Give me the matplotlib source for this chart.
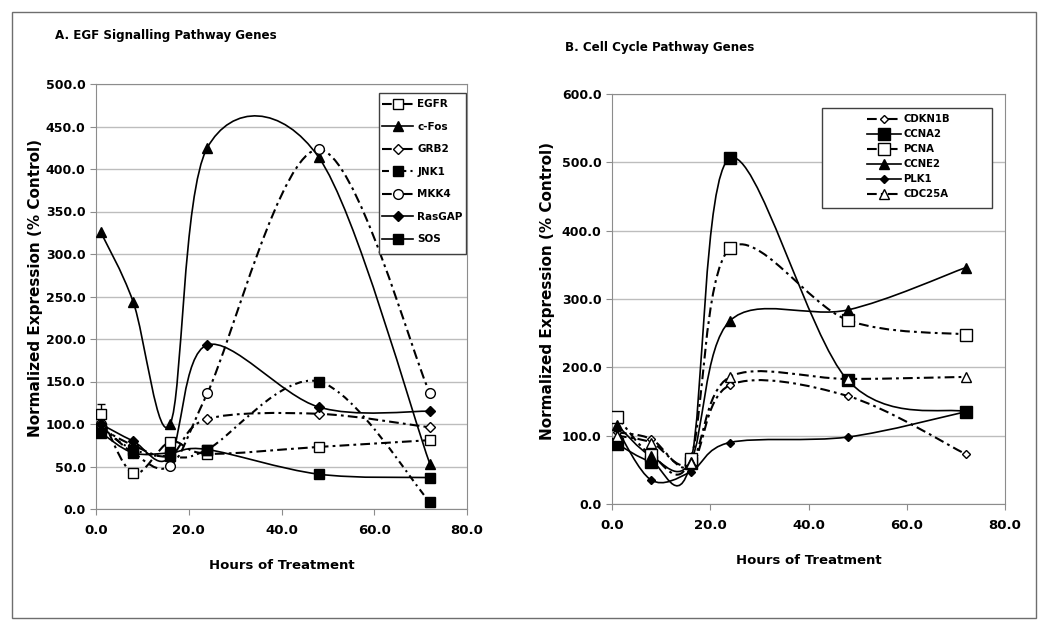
import numpy as np
import matplotlib
matplotlib.use('Agg')
import matplotlib.pyplot as plt
from matplotlib.path import Path
from matplotlib.patches import PathPatch, Rectangle
from matplotlib.lines import Line2D

# time points (hours)
hours = [1, 8, 16, 24, 48, 72]

# panel A - EGF signalling pathway genes
egfr = [112, 42, 79, 65, 73, 81]
egfr_err = [12, 0, 0, 0, 0, 0]
cfos = [326, 244, 100, 425, 414, 53]
grb2 = [95, 75, 63, 106, 112, 96]
jnk1 = [95, 70, 62, 70, 150, 8]
mkk4 = [100, 66, 51, 136, 423, 136]
rasgap = [100, 80, 62, 193, 120, 115]
sos = [90, 66, 66, 70, 41, 37]

# panel B - cell cycle pathway genes
cdkn1b = [105, 95, 55, 174, 158, 73]
ccna2 = [88, 62, 60, 506, 181, 135]
pcna = [128, 72, 66, 374, 269, 248]
ccne2 = [116, 70, 62, 268, 284, 346]
plk1 = [110, 35, 47, 90, 98, 135]
cdc25a = [100, 90, 60, 186, 183, 186]

plt.rcParams['lines.scale_dashes'] = False
plt.rcParams['font.family'] = 'DejaVu Sans'

SOLID = '-'
DASHDOT = (0, (7, 3, 2, 3))
DOTDASH = (0, (5, 3, 1.5, 3))
GRAY = '#8c8c8c'


def smooth_path(x, y):
    # Excel style smoothed line (Catmull-Rom as cubic Bezier)
    p = np.column_stack([x, y]).astype(float)
    n = len(p)
    verts = [p[0]]
    codes = [Path.MOVETO]
    for i in range(n - 1):
        a = p[i - 1] if i > 0 else p[i]
        d = p[i + 2] if i + 2 < n else p[i + 1]
        c1 = p[i] + (p[i + 1] - a) / 6.0
        c2 = p[i + 1] - (d - p[i]) / 6.0
        verts += [c1, c2, p[i + 1]]
        codes += [Path.CURVE4] * 3
    return Path(verts, codes)


def series(ax, y, ls, marker, ms, filled, lw):
    ax.add_patch(PathPatch(smooth_path(hours, y), fill=False, ec='black',
                           lw=lw, ls=ls, zorder=3))
    ax.plot(hours, y, ls='none', marker=marker, ms=ms, mec='black',
            mew=1.0, mfc='black' if filled else 'white', zorder=4)
    return Line2D([], [], color='black', lw=lw, ls=ls, marker=marker, ms=ms,
                  mec='black', mew=1.0, mfc='black' if filled else 'white')


def style_axes(ax, ymax, ystep, xl, yl):
    ax.set_xlim(0, 80)
    ax.set_ylim(0, ymax)
    ax.set_xticks(np.arange(0, 81, 20))
    ax.set_yticks(np.arange(0, ymax + 1, ystep))
    ax.set_xticklabels(['%.1f' % v for v in np.arange(0, 81, 20)])
    ax.set_yticklabels(['%.1f' % v for v in np.arange(0, ymax + 1, ystep)])
    ax.grid(axis='y', color='#bdbdbd', lw=1.0)
    ax.set_axisbelow(True)
    for s in ax.spines.values():
        s.set_color(GRAY)
    ax.tick_params(direction='out', length=4, color=GRAY)
    ax.tick_params(axis='x', pad=7, labelsize=9.5)
    ax.tick_params(axis='y', labelsize=9)
    for t in ax.get_xticklabels() + ax.get_yticklabels():
        t.set_fontweight('bold')
    ax.set_xlabel('Hours of Treatment', fontsize=9.5, fontweight='bold')
    ax.xaxis.set_label_coords(0.5, xl)
    ax.set_ylabel('Normalized Expression (% Control)', fontsize=11,
                  fontweight='bold')
    ax.yaxis.set_label_coords(yl, 0.52)


fig = plt.figure(figsize=(10.5, 6.32), dpi=100)
fig.patches.append(Rectangle((12 / 1050, 1 - 618 / 632), 1024 / 1050, 606 / 632,
                             transform=fig.transFigure, fill=False,
                             ec='#6e6e6e', lw=1.0))

# ---- panel A ----
axA = fig.add_axes([96 / 1050, 1 - 509 / 632, 371 / 1050, 425 / 632])
style_axes(axA, 500, 50, -0.118, -0.142)
axA.errorbar(hours, egfr, yerr=egfr_err, fmt='none', ecolor='black',
             elinewidth=1, capsize=3, zorder=2)
hA = [series(axA, egfr, DASHDOT, 's', 7, False, 1.5),
      series(axA, cfos, SOLID, '^', 7, True, 1.2),
      series(axA, grb2, DASHDOT, 'D', 5.5, False, 1.5),
      series(axA, jnk1, DOTDASH, 's', 7, True, 1.5),
      series(axA, mkk4, DASHDOT, 'o', 7, False, 1.5),
      series(axA, rasgap, SOLID, 'D', 5.5, True, 1.2),
      series(axA, sos, SOLID, 's', 7, True, 1.2)]
labA = ['EGFR', 'c-Fos', 'GRB2', 'JNK1', 'MKK4', 'RasGAP', 'SOS']
axA.add_patch(Rectangle((0.763, 0.600), 0.234, 0.379, transform=axA.transAxes,
                        fill=True, fc='white', ec='#404040', lw=1.0, zorder=5))
legA = axA.legend(hA, labA, loc='upper left', bbox_to_anchor=(0.772, 0.964),
                  frameon=False, borderpad=0, borderaxespad=0,
                  handlelength=2.9, handletextpad=0.45, labelspacing=1.2,
                  numpoints=1, prop={'weight': 'bold', 'size': 7.5})
legA.set_zorder(6)
fig.text(55 / 1050, 1 - 36 / 632, 'A. EGF Signalling Pathway Genes', fontsize=8.6,
         fontweight='bold', va='center', ha='left')

# ---- panel B ----
axB = fig.add_axes([612 / 1050, 1 - 504 / 632, 393 / 1050, 410 / 632])
style_axes(axB, 600, 100, -0.122, -0.145)
hB = [series(axB, cdkn1b, DASHDOT, 'D', 4.5, False, 1.5),
      series(axB, ccna2, SOLID, 's', 8, True, 1.2),
      series(axB, pcna, DASHDOT, 's', 8, False, 1.5),
      series(axB, ccne2, SOLID, '^', 7, True, 1.2),
      series(axB, plk1, SOLID, 'D', 4.5, True, 1.2),
      series(axB, cdc25a, DASHDOT, '^', 7, False, 1.5)]
labB = ['CDKN1B', 'CCNA2', 'PCNA', 'CCNE2', 'PLK1', 'CDC25A']
axB.add_patch(Rectangle((0.534, 0.722), 0.433, 0.244, transform=axB.transAxes,
                        fill=True, fc='white', ec='#404040', lw=1.0, zorder=5))
legB = axB.legend(hB, labB, loc='upper left', bbox_to_anchor=(0.649, 0.951),
                  frameon=False, borderpad=0, borderaxespad=0,
                  handlelength=3.3, handletextpad=0.3, labelspacing=0.5,
                  numpoints=1, prop={'weight': 'bold', 'size': 7.3})
legB.set_zorder(6)
fig.text(565 / 1050, 1 - 48 / 632, 'B. Cell Cycle Pathway Genes', fontsize=8.6,
         fontweight='bold', va='center', ha='left')

fig.savefig('out.png', dpi=100)
